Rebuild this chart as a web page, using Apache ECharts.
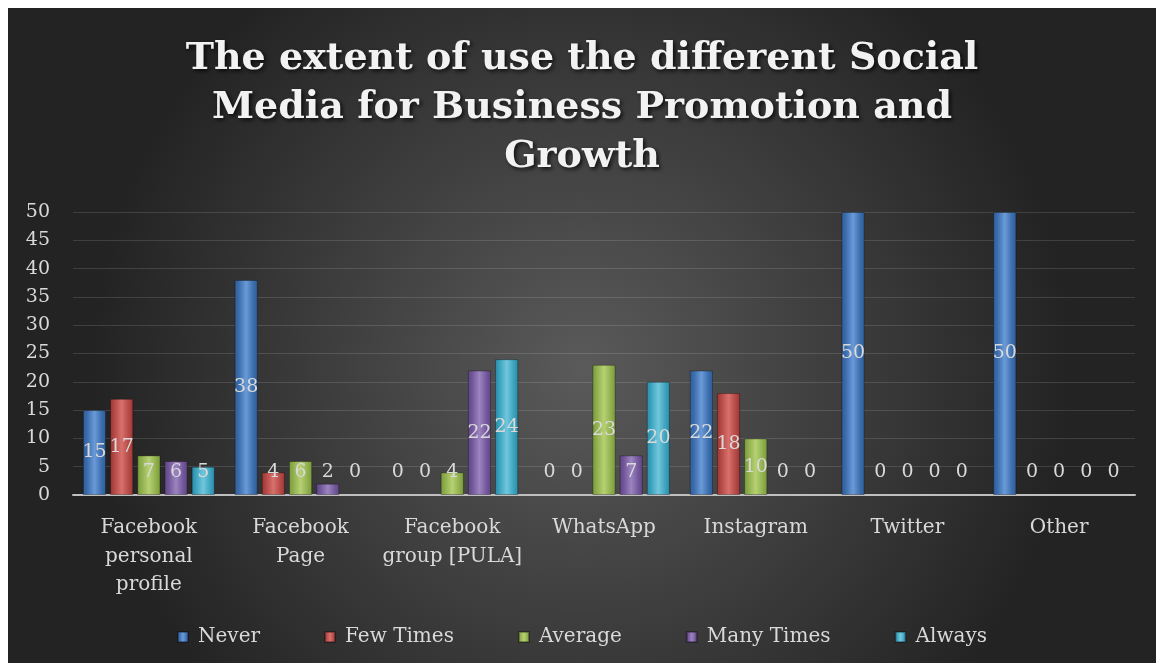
<!DOCTYPE html>
<html>
<head>
<meta charset="utf-8">
<script src="https://cdn.jsdelivr.net/npm/echarts@6/dist/echarts.min.js"></script>
<style>
  html, body { margin: 0; padding: 0; background: #ffffff; }
  #chart { position: absolute; left: 8px; top: 8px; width: 1148px; height: 655px; }
</style>
</head>
<body>
<div id="chart"></div>
<script>
const titleText = 'The extent of use the different Social\nMedia for Business Promotion and\nGrowth';
const categories = ['Facebook\npersonal\nprofile', 'Facebook\nPage', 'Facebook\ngroup [PULA]', 'WhatsApp', 'Instagram', 'Twitter', 'Other'];
const seriesNames = ['Never', 'Few Times', 'Average', 'Many Times', 'Always'];
const never     = [15, 38, 0, 0, 22, 50, 50];
const fewTimes  = [17, 4, 0, 0, 18, 0, 0];
const average   = [7, 6, 4, 23, 10, 0, 0];
const manyTimes = [6, 2, 22, 7, 0, 0, 0];
const always    = [5, 0, 24, 20, 0, 0, 0];
const yTicks = { min: 0, max: 50, interval: 5 };

const seriesData = [never, fewTimes, average, manyTimes, always];
const palette = [
  ['#2f5d97', '#6a9ad8', '#3b6cab'],
  ['#9e3532', '#d8706c', '#b34845'],
  ['#7a9a3c', '#b6d173', '#8eae4c'],
  ['#5e4684', '#9c84bf', '#71559a'],
  ['#2a8aa6', '#71c7dc', '#3aa1bd']
];
const legendColors = ['#4f81bd', '#c0504d', '#9bbb59', '#8064a2', '#4bacc6'];
const labelFont = '"DejaVu Serif", "Liberation Serif", serif';

function barGradient(p) {
  return new echarts.graphic.LinearGradient(0, 0, 1, 0, [
    { offset: 0, color: p[0] },
    { offset: 0.18, color: p[2] },
    { offset: 0.5, color: p[1] },
    { offset: 0.82, color: p[2] },
    { offset: 1, color: p[0] }
  ]);
}

const series = seriesData.map((arr, i) => ({
  name: seriesNames[i],
  type: 'bar',
  barGap: '17%',
  barCategoryGap: '13%',
  itemStyle: {
    color: barGradient(palette[i]),
    borderColor: 'rgba(0,0,0,0.3)',
    borderWidth: 1
  },
  label: {
    show: true,
    position: 'inside',
    color: '#d9d9d9',
    fontFamily: labelFont,
    fontSize: 19
  },
  data: arr.map(v => {
    const item = { value: v };
    if (v <= 8) item.label = { position: 'insideBottom', distance: 13 };
    if (v === 0) item.itemStyle = { borderWidth: 0 };
    return item;
  })
}));

const chart = echarts.init(document.getElementById('chart'), null, { renderer: 'canvas' });
chart.setOption({
  animation: false,
  backgroundColor: {
    type: 'radial', x: 0.5, y: 0.55, r: 0.75,
    colorStops: [
      { offset: 0, color: '#5a5a5a' },
      { offset: 1, color: '#232323' }
    ]
  },
  color: legendColors,
  title: {
    text: titleText,
    left: 'center',
    top: 22,
    textStyle: {
      color: '#f2f2f2',
      fontFamily: labelFont,
      fontWeight: 'bold',
      fontSize: 38,
      lineHeight: 49,
      textShadowColor: 'rgba(0,0,0,0.8)',
      textShadowBlur: 4,
      textShadowOffsetX: 2,
      textShadowOffsetY: 2
    }
  },
  legend: {
    bottom: 11,
    left: 'center',
    itemWidth: 10,
    itemHeight: 10,
    itemGap: 64,
    icon: 'rect',
    textStyle: { color: '#d9d9d9', fontFamily: labelFont, fontSize: 20, padding: [0, 0, 0, 5] },
    data: seriesNames
  },
  grid: { left: 65, right: 21, top: 204, bottom: 168, containLabel: false },
  xAxis: {
    type: 'category',
    data: categories,
    axisLine: { show: true, lineStyle: { color: '#bfbfbf', width: 2 } },
    axisTick: { show: false },
    axisLabel: {
      color: '#d9d9d9', fontFamily: labelFont, fontSize: 20, lineHeight: 28.5, margin: 19,
      interval: 0, align: 'center'
    }
  },
  yAxis: {
    type: 'value',
    min: yTicks.min, max: yTicks.max, interval: yTicks.interval,
    axisLine: { show: false },
    axisTick: { show: false },
    splitLine: { lineStyle: { color: 'rgba(255,255,255,0.13)', width: 1 } },
    axisLabel: { color: '#d9d9d9', fontFamily: labelFont, fontSize: 19, margin: 23 }
  },
  series: series
});
</script>
</body>
</html>
